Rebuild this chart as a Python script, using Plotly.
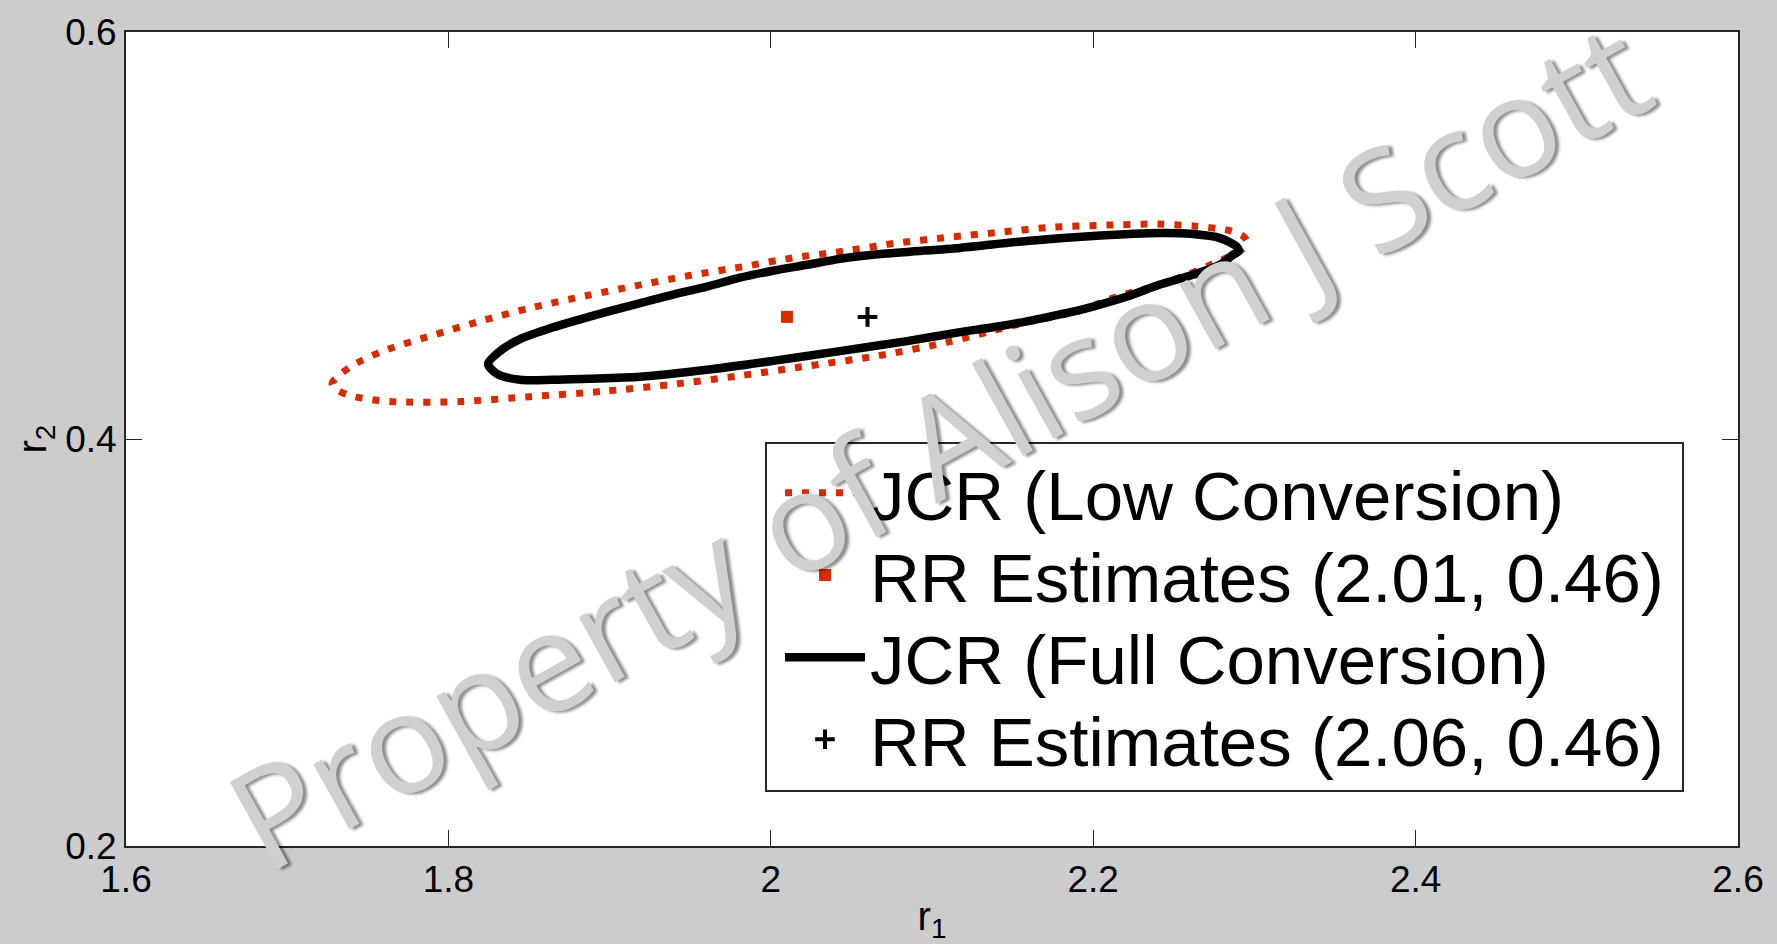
import plotly.graph_objects as go

# Joint confidence region (JCR) contours for the reactivity ratios r1, r2
jcr_low_r1 = [1.9375, 1.8940, 1.8506, 1.8072, 1.7638, 1.7421, 1.7315, 1.7278,
              1.7390, 1.7594, 1.7904, 1.8215, 1.8525, 1.8860, 1.9170, 1.9486,
              1.9821, 2.0138, 2.0460, 2.0783, 2.1112, 2.1434, 2.1751, 2.2086,
              2.2402, 2.2632, 2.2836, 2.2929, 2.2954, 2.2911, 2.2768, 2.2582,
              2.2352, 2.2148, 2.1900, 2.1589, 2.1341, 2.1099, 2.0659, 2.0231,
              1.9809, 1.9375]
jcr_low_r2 = [0.4267, 0.4233, 0.4208, 0.4184, 0.4184, 0.4208, 0.4238, 0.4272,
              0.4354, 0.4432, 0.4510, 0.4583, 0.4647, 0.4705, 0.4754, 0.4802,
              0.4846, 0.4890, 0.4924, 0.4963, 0.4992, 0.5017, 0.5041, 0.5051,
              0.5056, 0.5046, 0.5026, 0.4997, 0.4968, 0.4924, 0.4870, 0.4807,
              0.4744, 0.4700, 0.4627, 0.4574, 0.4525, 0.4476, 0.4408, 0.4359,
              0.4311, 0.4267]

jcr_full_r1 = [1.9189, 1.8860, 1.8649, 1.8444, 1.8302, 1.8246, 1.8320, 1.8444,
               1.8649, 1.8860, 1.9065, 1.9393, 1.9604, 1.9809, 2.0014, 2.0225,
               2.0429, 2.0634, 2.0845, 2.1174, 2.1589, 2.1999, 2.2414, 2.2619,
               2.2787, 2.2892, 2.2904, 2.2867, 2.2787, 2.2619, 2.2414, 2.2210,
               2.1999, 2.1794, 2.1589, 2.1378, 2.1174, 2.0845, 2.0429, 2.0014,
               1.9604, 1.9189]
jcr_full_r2 = [0.4306, 0.4296, 0.4291, 0.4291, 0.4320, 0.4369, 0.4432, 0.4491,
               0.4549, 0.4598, 0.4642, 0.4710, 0.4749, 0.4793, 0.4827, 0.4856,
               0.4885, 0.4905, 0.4919, 0.4939, 0.4973, 0.4997, 0.5012, 0.5007,
               0.4987, 0.4944, 0.4924, 0.4905, 0.4856, 0.4807, 0.4759, 0.4700,
               0.4651, 0.4612, 0.4578, 0.4549, 0.4525, 0.4481, 0.4432, 0.4384,
               0.4340, 0.4306]

# Point estimates from the reactivity-ratio (RR) fits
rr_low_r1 = [2.01]
rr_low_r2 = [0.46]
rr_full_r1 = [2.06]
rr_full_r2 = [0.46]

series_names = [
    "JCR (Low Conversion)",
    "RR Estimates (2.01, 0.46)",
    "JCR (Full Conversion)",
    "RR Estimates (2.06, 0.46)",
]

x_tick_vals = [1.6, 1.8, 2.0, 2.2, 2.4, 2.6]
x_tick_text = ["1.6", "1.8", "2", "2.2", "2.4", "2.6"]
y_tick_vals = [0.2, 0.4, 0.6]
y_tick_text = ["0.2", "0.4", "0.6"]

RED = "#d92b00"
AXIS = "#262626"
FONT = "Liberation Sans, Arial, sans-serif"

# one legend entry per row so the rows sit tightly inside a single framed box
legend_ids = ["legend", "legend2", "legend3", "legend4"]
legend_rows_y = [0.4339, 0.3328, 0.2318, 0.1310]

fig = go.Figure()

fig.add_trace(go.Scatter(
    x=jcr_low_r1, y=jcr_low_r2, mode="lines", name=series_names[0],
    legend=legend_ids[0],
    line=dict(color=RED, width=7, dash="7px,10px", shape="spline", smoothing=0.8),
))
fig.add_trace(go.Scatter(
    x=rr_low_r1, y=rr_low_r2, mode="markers", name=series_names[1],
    legend=legend_ids[1],
    marker=dict(symbol="square", color=RED, size=12),
))
fig.add_trace(go.Scatter(
    x=jcr_full_r1, y=jcr_full_r2, mode="lines", name=series_names[2],
    legend=legend_ids[2],
    line=dict(color="black", width=8.5, shape="spline", smoothing=0.8),
))
fig.add_trace(go.Scatter(
    x=rr_full_r1, y=rr_full_r2, mode="markers", name=series_names[3],
    legend=legend_ids[3],
    marker=dict(symbol="cross-thin", color="black", size=14,
                line=dict(color="black", width=4)),
))

axis_common = dict(
    showgrid=False, zeroline=False,
    showline=True, linecolor=AXIS, linewidth=2, mirror="ticks",
    ticks="inside", ticklen=16, tickwidth=1, tickcolor=AXIS,
    tickfont=dict(family=FONT, size=37, color="black"),
)

fig.update_xaxes(
    range=[1.6, 2.6], tickvals=x_tick_vals, ticktext=x_tick_text,
    title=dict(text="r<sub>1</sub>", font=dict(family=FONT, size=40, color="black"),
               standoff=4),
    **axis_common,
)
fig.update_yaxes(
    range=[0.2, 0.6], tickvals=y_tick_vals, ticktext=y_tick_text,
    title=dict(text="r<sub>2</sub>", font=dict(family=FONT, size=40, color="black"),
               standoff=6),
    **axis_common,
)

# legend frame
fig.add_shape(
    type="rect", xref="paper", yref="paper",
    x0=0.3970, x1=0.9659, y0=0.0675, y1=0.4950,
    line=dict(color=AXIS, width=2), fillcolor="white", layer="above",
)

legend_style = dict(
    x=0.4057, xanchor="left", yanchor="middle",
    bgcolor="rgba(0,0,0,0)", borderwidth=0,
    font=dict(family=FONT, size=69, color="black"),
    itemwidth=80,
)
layout_legends = {lid: dict(y=ly, **legend_style)
                  for lid, ly in zip(legend_ids, legend_rows_y)}

fig.add_annotation(
    text="Property of Alison J Scott",
    xref="paper", yref="paper", x=0.503, y=0.4960,
    showarrow=False, textangle=-29,
    font=dict(family="Open Sans", size=139, color="#d0d0d2",
              shadow="3px 3px 3px rgba(0,0,0,0.45)"),
)

fig.update_layout(
    width=1777, height=944,
    margin=dict(l=126, r=39, t=25, b=97, pad=0),
    paper_bgcolor="#cccccc", plot_bgcolor="white",
    font=dict(family=FONT, color="black"),
    showlegend=True,
    **layout_legends,
)

fig.write_html("out.html")
